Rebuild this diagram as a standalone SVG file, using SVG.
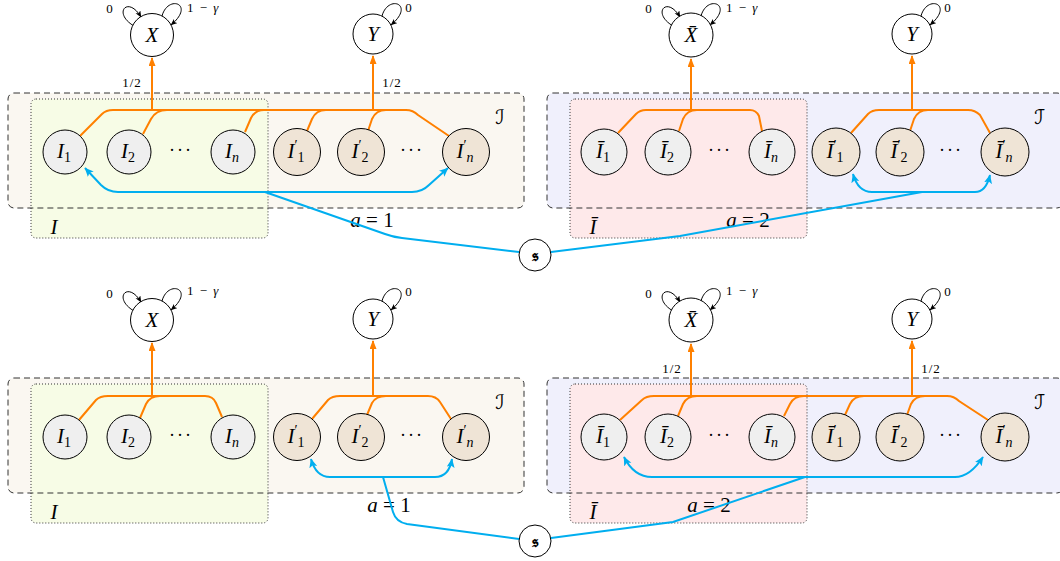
<svg xmlns="http://www.w3.org/2000/svg" width="1060" height="561" viewBox="0 0 1060 561">
<style>
.bg{fill:#ffffff}
.dash{fill:none;stroke:#333;stroke-width:1;stroke-dasharray:6,4}
.dot{stroke:#333;stroke-width:1;stroke-dasharray:1,2}
.fI{fill:#faf7f1}
.fJ{fill:#f0f0fc}
.fi{fill:#f7fce6}
.fj{fill:#fee9ea}
.nd{stroke:#000;stroke-width:1}
.w{fill:#fff}
.g{fill:#efefef}
.b{fill:#efe4d6}
.or{fill:none;stroke:#ff8000;stroke-width:2}
.bl{fill:none;stroke:#00aeef;stroke-width:2}
.lp{fill:none;stroke:#000;stroke-width:1}
.t{font-family:"Liberation Serif",serif;font-style:italic;font-size:21px;fill:#000}
.sb{font-size:14px}
.up{font-style:normal}
.s{font-family:"Liberation Serif",serif;font-size:13px;letter-spacing:1px;word-spacing:1px;fill:#000}
.cal{font-family:"DejaVu Serif","DejaVu Sans",serif;font-style:italic;font-size:20px;fill:#000}
.dots{font-family:"Liberation Serif",serif;font-size:18px;letter-spacing:2px;fill:#000}
.fr{font-family:"DejaVu Serif","DejaVu Sans","Noto Sans",serif;font-size:17px;font-weight:bold;fill:#000}
</style>
<defs>
<marker id="ao" markerUnits="userSpaceOnUse" markerWidth="10" markerHeight="8" refX="8" refY="3.5" orient="auto"><path d="M0,0 L9,3.5 L0,7 z" fill="#ff8000"/></marker>
<marker id="ab" markerUnits="userSpaceOnUse" markerWidth="11" markerHeight="9" refX="8.5" refY="4" orient="auto"><path d="M0,0 L9,4 L0,8 L2,4 z" fill="#00aeef"/></marker>
<marker id="ak" markerUnits="userSpaceOnUse" markerWidth="8" markerHeight="7" refX="6" refY="2.75" orient="auto"><path d="M0,0 L6.5,2.75 L0,5.5 L1.5,2.75 z" fill="#000"/></marker>
</defs>
<rect class="bg" x="0" y="0" width="1060" height="561"/>

<g id="containers">
<rect class="fI" x="8" y="93" width="516" height="115" rx="6"/>
<rect class="fi dot" x="31" y="99" width="237" height="139" rx="5"/>
<rect class="dash" x="8" y="93" width="516" height="115" rx="6"/>
<rect class="fJ" x="547" y="93" width="516" height="115" rx="6"/>
<rect class="fj dot" x="570" y="99" width="237" height="139" rx="5"/>
<rect class="dash" x="547" y="93" width="516" height="115" rx="6"/>
<rect class="fI" x="8" y="378" width="516" height="115" rx="6"/>
<rect class="fi dot" x="31" y="384" width="237" height="139" rx="5"/>
<rect class="dash" x="8" y="378" width="516" height="115" rx="6"/>
<rect class="fJ" x="547" y="378" width="516" height="115" rx="6"/>
<rect class="fj dot" x="570" y="384" width="237" height="139" rx="5"/>
<rect class="dash" x="547" y="378" width="516" height="115" rx="6"/>
<text class="t" x="54" y="234" text-anchor="middle">I</text>
<text class="t" x="593" y="234" text-anchor="middle">Ī</text>
<text class="t" x="54" y="519" text-anchor="middle">I</text>
<text class="t" x="593" y="519" text-anchor="middle">Ī</text>
<text class="cal" x="500" y="124" text-anchor="middle">ℐ</text>
<text class="cal" x="1039" y="124" text-anchor="middle">ℐ̄</text>
<text class="cal" x="500" y="409" text-anchor="middle">ℐ</text>
<text class="cal" x="1039" y="409" text-anchor="middle">ℐ̄</text>
<text class="dots" x="181" y="156" text-anchor="middle">···</text>
<text class="dots" x="412" y="156" text-anchor="middle">···</text>
<text class="dots" x="720" y="156" text-anchor="middle">···</text>
<text class="dots" x="951" y="156" text-anchor="middle">···</text>
<text class="dots" x="181" y="441" text-anchor="middle">···</text>
<text class="dots" x="412" y="441" text-anchor="middle">···</text>
<text class="dots" x="720" y="441" text-anchor="middle">···</text>
<text class="dots" x="951" y="441" text-anchor="middle">···</text>
<text class="t" x="372" y="227" text-anchor="middle">a<tspan class="up"> = 1</tspan></text>
<text class="t" x="748" y="227" text-anchor="middle">a<tspan class="up"> = 2</tspan></text>
<text class="t" x="389" y="512" text-anchor="middle">a<tspan class="up"> = 1</tspan></text>
<text class="t" x="709" y="512" text-anchor="middle">a<tspan class="up"> = 2</tspan></text>
</g>

<g id="connectors">
<!-- top-left orange -->
<path class="or" d="M80 136 L102 114 Q106 110 113 110 L406 110 Q413 110 418 115 L449 136"/>
<path class="or" d="M143 134 L151 119 Q156 110 167 110"/>
<path class="or" d="M245 132 L251 118 Q255 110 264 110"/>
<path class="or" d="M307 131 L312 119 Q316 110 326 110"/>
<path class="or" d="M368 131 L372 119 Q376 110 386 110"/>
<path class="or" d="M152 110 L152 58" marker-end="url(#ao)"/>
<path class="or" d="M373 110 L373 56" marker-end="url(#ao)"/>
<text class="s" x="132" y="87" text-anchor="middle">1/2</text>
<text class="s" x="392" y="87" text-anchor="middle">1/2</text>
<!-- top-right orange -->
<path class="or" d="M618 133 L636 114 Q640 110 646 110 L750 110 Q756 110 759 116 L762 131"/>
<path class="or" d="M679 131 L683 119 Q687 110 697 110"/>
<path class="or" d="M851 133 L868 114 Q872 110 879 110 L968 110 Q975 110 980 115 L990 133"/>
<path class="or" d="M910 131 L914 119 Q918 110 928 110"/>
<path class="or" d="M691 110 L691 59" marker-end="url(#ao)"/>
<path class="or" d="M912 110 L912 56" marker-end="url(#ao)"/>
<!-- bottom-left orange -->
<path class="or" d="M79 420 L96 400 Q100 396 108 396 L205 396 Q213 396 216 403 L222 417"/>
<path class="or" d="M140 418 L146 404 Q150 396 160 396"/>
<path class="or" d="M312 419 L328 400 Q332 396 340 396 L428 396 Q436 396 440 402 L451 419"/>
<path class="or" d="M367 415 L372 403 Q376 396 386 396"/>
<path class="or" d="M152 396 L152 343" marker-end="url(#ao)"/>
<path class="or" d="M373 396 L373 341" marker-end="url(#ao)"/>
<!-- bottom-right orange -->
<path class="or" d="M620 420 L642 400 Q646 396 654 396 L947 396 Q954 396 959 401 L988 420"/>
<path class="or" d="M678 416 L683 404 Q687 396 697 396"/>
<path class="or" d="M784 416 L790 404 Q794 396 804 396"/>
<path class="or" d="M845 415 L850 404 Q854 396 864 396"/>
<path class="or" d="M907 415 L911 404 Q915 396 925 396"/>
<path class="or" d="M691 396 L691 344" marker-end="url(#ao)"/>
<path class="or" d="M912 396 L912 341" marker-end="url(#ao)"/>
<text class="s" x="672" y="373" text-anchor="middle">1/2</text>
<text class="s" x="931" y="373" text-anchor="middle">1/2</text>
<!-- blue top -->
<path class="bl" d="M265 192 L118 192 Q108 192 101 185 L85 168" marker-end="url(#ab)"/>
<path class="bl" d="M265 192 L412 192 Q422 192 429 185 L448 168" marker-end="url(#ab)"/>
<path class="bl" d="M519 252 L402 238 Q393 237 385 234 L265 192"/>
<path class="bl" d="M551 252 L680 236 L922 192"/>
<path class="bl" d="M922 192 L872 192 Q858 192 853 174" marker-end="url(#ab)"/>
<path class="bl" d="M922 192 L975 192 Q986 192 990 175" marker-end="url(#ab)"/>
<!-- blue bottom -->
<path class="bl" d="M519 539 L407 524 Q396 522 393 512 L383 477"/>
<path class="bl" d="M383 477 L330 477 Q316 477 311 459" marker-end="url(#ab)"/>
<path class="bl" d="M383 477 L435 477 Q449 477 452 459" marker-end="url(#ab)"/>
<path class="bl" d="M551 538 L673 522 L805 477"/>
<path class="bl" d="M805 477 L652 477 Q634 477 624 457" marker-end="url(#ab)"/>
<path class="bl" d="M805 477 L955 477 Q970 477 983 457" marker-end="url(#ab)"/>
<!-- self loops -->
<path class="lp" d="M134 26 C112 13 128 -5 141 17" marker-end="url(#ak)"/>
<path class="lp" d="M162 16 C168 -6 196 4 171 25" marker-end="url(#ak)"/>
<path class="lp" d="M382 16 C388 -6 416 4 391 25" marker-end="url(#ak)"/>
<path class="lp" d="M673 26 C651 13 667 -5 680 17" marker-end="url(#ak)"/>
<path class="lp" d="M701 16 C707 -6 735 4 710 25" marker-end="url(#ak)"/>
<path class="lp" d="M921 16 C927 -6 955 4 930 25" marker-end="url(#ak)"/>
<path class="lp" d="M134 311 C112 298 128 280 141 302" marker-end="url(#ak)"/>
<path class="lp" d="M162 301 C168 279 196 289 171 310" marker-end="url(#ak)"/>
<path class="lp" d="M382 301 C388 279 416 289 391 310" marker-end="url(#ak)"/>
<path class="lp" d="M673 311 C651 298 667 280 680 302" marker-end="url(#ak)"/>
<path class="lp" d="M701 301 C707 279 735 289 710 310" marker-end="url(#ak)"/>
<path class="lp" d="M921 301 C927 279 955 289 930 310" marker-end="url(#ak)"/>
<text class="s" x="110" y="13" text-anchor="middle">0</text>
<text class="s" x="187" y="12">1 − <tspan font-style="italic">γ</tspan></text>
<text class="s" x="409" y="12" text-anchor="middle">0</text>
<text class="s" x="649" y="13" text-anchor="middle">0</text>
<text class="s" x="726" y="12">1 − <tspan font-style="italic">γ</tspan></text>
<text class="s" x="948" y="12" text-anchor="middle">0</text>
<text class="s" x="110" y="298" text-anchor="middle">0</text>
<text class="s" x="187" y="295">1 − <tspan font-style="italic">γ</tspan></text>
<text class="s" x="409" y="296" text-anchor="middle">0</text>
<text class="s" x="649" y="298" text-anchor="middle">0</text>
<text class="s" x="726" y="295">1 − <tspan font-style="italic">γ</tspan></text>
<text class="s" x="948" y="296" text-anchor="middle">0</text>
</g>

<!-- top-left nodes -->
<g id="X_top" transform="translate(152,35)"><circle class="nd w" r="21.5"/><text class="t" y="7" text-anchor="middle">X</text></g>
<g id="Y_top" transform="translate(373,34)"><circle class="nd w" r="20"/><text class="t" y="7" text-anchor="middle">Y</text></g>
<g id="I1_top" transform="translate(65,152)"><circle class="nd g" r="22"/><text class="t" x="-1" y="6" text-anchor="middle">I<tspan class="sb up" dy="4">1</tspan></text></g>
<g id="I2_top" transform="translate(129,152)"><circle class="nd g" r="22"/><text class="t" x="-1" y="6" text-anchor="middle">I<tspan class="sb up" dy="4">2</tspan></text></g>
<g id="In_top" transform="translate(233,152)"><circle class="nd g" r="22"/><text class="t" x="-1" y="6" text-anchor="middle">I<tspan class="sb" dy="4">n</tspan></text></g>
<g id="Ip1_top" transform="translate(297,152)"><circle class="nd b" r="23.5"/><text class="t" x="-1" y="6" text-anchor="middle">I<tspan class="sb up" dy="-8">′</tspan><tspan class="sb up" dy="12">1</tspan></text></g>
<g id="Ip2_top" transform="translate(361,152)"><circle class="nd b" r="23.5"/><text class="t" x="-1" y="6" text-anchor="middle">I<tspan class="sb up" dy="-8">′</tspan><tspan class="sb up" dy="12">2</tspan></text></g>
<g id="Ipn_top" transform="translate(466,152)"><circle class="nd b" r="23.5"/><text class="t" x="-1" y="6" text-anchor="middle">I<tspan class="sb up" dy="-8">′</tspan><tspan class="sb" dy="12">n</tspan></text></g>
<!-- top-right nodes -->
<g id="Xb_top" transform="translate(691,35)"><circle class="nd w" r="22"/><text class="t" y="7" text-anchor="middle">X̄</text></g>
<g id="Yb_top" transform="translate(912,34)"><circle class="nd w" r="20"/><text class="t" y="7" text-anchor="middle">Y</text></g>
<g id="Ib1_top" transform="translate(604,152)"><circle class="nd g" r="23"/><text class="t" x="-1" y="6" text-anchor="middle">Ī<tspan class="sb up" dy="4">1</tspan></text></g>
<g id="Ib2_top" transform="translate(668,152)"><circle class="nd g" r="23"/><text class="t" x="-1" y="6" text-anchor="middle">Ī<tspan class="sb up" dy="4">2</tspan></text></g>
<g id="Ibn_top" transform="translate(772,152)"><circle class="nd g" r="23"/><text class="t" x="-1" y="6" text-anchor="middle">Ī<tspan class="sb" dy="4">n</tspan></text></g>
<g id="Ibp1_top" transform="translate(836,152)"><circle class="nd b" r="24"/><text class="t" x="-1" y="6" text-anchor="middle">Ī<tspan class="sb up" dy="-8">′</tspan><tspan class="sb up" dy="12">1</tspan></text></g>
<g id="Ibp2_top" transform="translate(900,152)"><circle class="nd b" r="24"/><text class="t" x="-1" y="6" text-anchor="middle">Ī<tspan class="sb up" dy="-8">′</tspan><tspan class="sb up" dy="12">2</tspan></text></g>
<g id="Ibpn_top" transform="translate(1005,152)"><circle class="nd b" r="24"/><text class="t" x="-1" y="6" text-anchor="middle">Ī<tspan class="sb up" dy="-8">′</tspan><tspan class="sb" dy="12">n</tspan></text></g>
<g id="s_top" transform="translate(535,255)"><circle class="nd w" r="16"/><text class="fr" y="6" text-anchor="middle">𝔰</text></g>
<!-- bottom-left nodes -->
<g id="X_bot" transform="translate(152,320)"><circle class="nd w" r="21.5"/><text class="t" y="7" text-anchor="middle">X</text></g>
<g id="Y_bot" transform="translate(373,319)"><circle class="nd w" r="20"/><text class="t" y="7" text-anchor="middle">Y</text></g>
<g id="I1_bot" transform="translate(65,437)"><circle class="nd g" r="22"/><text class="t" x="-1" y="6" text-anchor="middle">I<tspan class="sb up" dy="4">1</tspan></text></g>
<g id="I2_bot" transform="translate(129,437)"><circle class="nd g" r="22"/><text class="t" x="-1" y="6" text-anchor="middle">I<tspan class="sb up" dy="4">2</tspan></text></g>
<g id="In_bot" transform="translate(233,437)"><circle class="nd g" r="22"/><text class="t" x="-1" y="6" text-anchor="middle">I<tspan class="sb" dy="4">n</tspan></text></g>
<g id="Ip1_bot" transform="translate(297,437)"><circle class="nd b" r="23.5"/><text class="t" x="-1" y="6" text-anchor="middle">I<tspan class="sb up" dy="-8">′</tspan><tspan class="sb up" dy="12">1</tspan></text></g>
<g id="Ip2_bot" transform="translate(361,437)"><circle class="nd b" r="23.5"/><text class="t" x="-1" y="6" text-anchor="middle">I<tspan class="sb up" dy="-8">′</tspan><tspan class="sb up" dy="12">2</tspan></text></g>
<g id="Ipn_bot" transform="translate(466,437)"><circle class="nd b" r="23.5"/><text class="t" x="-1" y="6" text-anchor="middle">I<tspan class="sb up" dy="-8">′</tspan><tspan class="sb" dy="12">n</tspan></text></g>
<!-- bottom-right nodes -->
<g id="Xb_bot" transform="translate(691,320)"><circle class="nd w" r="22"/><text class="t" y="7" text-anchor="middle">X̄</text></g>
<g id="Yb_bot" transform="translate(912,319)"><circle class="nd w" r="20"/><text class="t" y="7" text-anchor="middle">Y</text></g>
<g id="Ib1_bot" transform="translate(604,437)"><circle class="nd g" r="23"/><text class="t" x="-1" y="6" text-anchor="middle">Ī<tspan class="sb up" dy="4">1</tspan></text></g>
<g id="Ib2_bot" transform="translate(668,437)"><circle class="nd g" r="23"/><text class="t" x="-1" y="6" text-anchor="middle">Ī<tspan class="sb up" dy="4">2</tspan></text></g>
<g id="Ibn_bot" transform="translate(772,437)"><circle class="nd g" r="23"/><text class="t" x="-1" y="6" text-anchor="middle">Ī<tspan class="sb" dy="4">n</tspan></text></g>
<g id="Ibp1_bot" transform="translate(836,437)"><circle class="nd b" r="24"/><text class="t" x="-1" y="6" text-anchor="middle">Ī<tspan class="sb up" dy="-8">′</tspan><tspan class="sb up" dy="12">1</tspan></text></g>
<g id="Ibp2_bot" transform="translate(900,437)"><circle class="nd b" r="24"/><text class="t" x="-1" y="6" text-anchor="middle">Ī<tspan class="sb up" dy="-8">′</tspan><tspan class="sb up" dy="12">2</tspan></text></g>
<g id="Ibpn_bot" transform="translate(1005,437)"><circle class="nd b" r="24"/><text class="t" x="-1" y="6" text-anchor="middle">Ī<tspan class="sb up" dy="-8">′</tspan><tspan class="sb" dy="12">n</tspan></text></g>
<g id="s_bot" transform="translate(535,541)"><circle class="nd w" r="16"/><text class="fr" y="6" text-anchor="middle">𝔰</text></g>
</svg>
